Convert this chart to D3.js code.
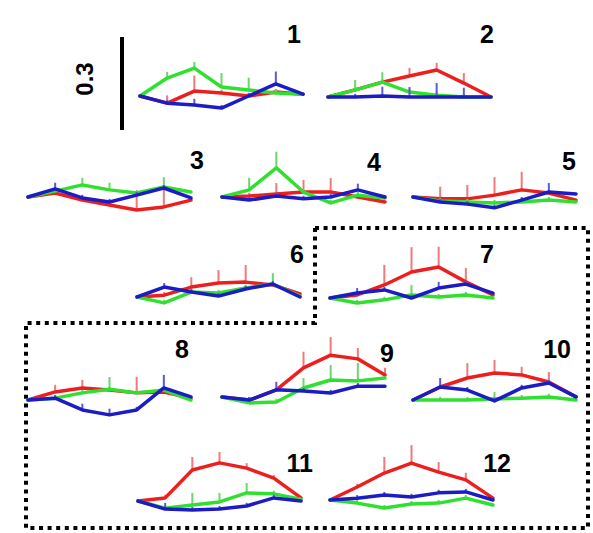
<!DOCTYPE html>
<html>
<head>
<meta charset="utf-8">
<script src="https://cdn.jsdelivr.net/npm/d3@7/dist/d3.min.js"></script>
<style>
  html, body { margin: 0; padding: 0; background: #fff; }
  svg { display: block; }
</style>
</head>
<body>
<script>
// Responses (ΔF) per time step for each of the 12 cells, three conditions each.
const panels = ["1","2","3","4","5","6","7","8","9","10","11","12"];
const steps = [0, 1, 2, 3, 4, 5, 6];

const redValues = [
  [0, -0.023, 0.016, 0.010, 0.000, 0.013, 0.006],
  [0, 0.023, 0.048, 0.068, 0.087, 0.045, 0.000],
  [0, 0.013, -0.010, -0.026, -0.042, -0.032, -0.010],
  [0, 0.003, 0.010, 0.016, 0.016, 0.000, -0.016],
  [0, -0.006, -0.006, 0.006, 0.023, 0.013, -0.010],
  [0, 0.006, 0.032, 0.045, 0.048, 0.039, 0.010],
  [0, 0.010, 0.042, 0.084, 0.100, 0.052, 0.010],
  [0, 0.026, 0.039, 0.032, 0.023, 0.026, 0.006],
  [0, -0.010, 0.023, 0.094, 0.135, 0.123, 0.071],
  [0, 0.042, 0.071, 0.087, 0.081, 0.058, 0.010],
  [0, 0.010, 0.100, 0.123, 0.106, 0.074, 0.010],
  [0, 0.042, 0.087, 0.119, 0.090, 0.065, 0.006]
];
const greenValues = [
  [0, 0.058, 0.090, 0.029, 0.019, 0.010, 0.006],
  [0, 0.023, 0.048, 0.016, 0.006, 0.000, 0.000],
  [0, 0.019, 0.039, 0.023, 0.013, 0.032, 0.016],
  [0, 0.023, 0.094, 0.016, -0.019, 0.006, -0.003],
  [0, -0.013, -0.016, -0.019, -0.016, -0.010, -0.016],
  [0, -0.019, 0.016, 0.013, 0.029, 0.042, 0.003],
  [0, -0.016, -0.006, 0.010, 0.003, 0.010, 0.000],
  [0, 0.006, 0.023, 0.035, 0.023, 0.032, 0.000],
  [0, -0.019, -0.016, 0.029, 0.055, 0.052, 0.061],
  [0, 0.000, 0.000, 0.003, 0.006, 0.010, 0.000],
  [0, -0.023, -0.013, -0.003, 0.026, 0.023, 0.006],
  [0, -0.010, -0.026, -0.013, -0.010, 0.006, -0.016]
];
const blueValues = [
  [0, -0.023, -0.029, -0.039, 0.000, 0.039, 0.006],
  [0, 0.000, 0.003, 0.000, 0.000, 0.000, 0.000],
  [0, 0.026, -0.003, -0.016, 0.006, 0.029, -0.003],
  [0, -0.010, 0.003, -0.006, 0.000, 0.023, 0.000],
  [0, -0.016, -0.023, -0.035, -0.010, 0.016, 0.010],
  [0, 0.032, 0.016, 0.003, 0.026, 0.042, 0.000],
  [0, 0.016, 0.026, 0.000, 0.032, 0.045, 0.016],
  [0, 0.006, -0.032, -0.048, -0.032, 0.039, 0.010],
  [0, -0.010, 0.023, 0.019, 0.013, 0.035, 0.035],
  [0, 0.042, 0.032, -0.003, 0.039, 0.055, 0.010],
  [0, -0.026, -0.029, -0.026, -0.016, 0.010, 0.000],
  [0, 0.006, 0.016, 0.010, 0.023, 0.026, 0.000]
];

// Upward error (SEM) at each step; 0 means no bar drawn.
const redErr = [
  [0, 0.025, 0.050, 0.010, 0.010, 0.010, 0],
  [0, 0.010, 0.010, 0.026, 0.023, 0.032, 0],
  [0, 0.010, 0.010, 0.010, 0.055, 0.060, 0],
  [0, 0.010, 0.035, 0.039, 0.045, 0.010, 0],
  [0, 0.039, 0.045, 0.058, 0.058, 0.010, 0],
  [0, 0.010, 0.032, 0.042, 0.055, 0.010, 0],
  [0, 0.010, 0.065, 0.080, 0.065, 0.045, 0],
  [0, 0.023, 0.026, 0.010, 0.052, 0.010, 0],
  [0, 0.010, 0.010, 0.052, 0.058, 0.035, 0.023],
  [0, 0.010, 0.048, 0.042, 0.026, 0.032, 0],
  [0, 0.010, 0.042, 0.035, 0.016, 0.010, 0],
  [0, 0.010, 0.052, 0.058, 0.032, 0.023, 0]
];
const greenErr = [
  [0, 0.020, 0.020, 0.045, 0.040, 0.010, 0],
  [0, 0.032, 0.032, 0.010, 0.010, 0.010, 0],
  [0, 0.010, 0.023, 0.023, 0.010, 0.032, 0],
  [0, 0.039, 0.052, 0.010, 0.010, 0.010, 0],
  [0, 0.010, 0.010, 0.010, 0.010, 0.010, 0],
  [0, 0.010, 0.010, 0.010, 0.010, 0.035, 0],
  [0, 0.010, 0.010, 0.032, 0.010, 0.010, 0],
  [0, 0.010, 0.010, 0.039, 0.010, 0.010, 0],
  [0, 0.010, 0.010, 0.032, 0.048, 0.058, 0],
  [0, 0.010, 0.010, 0.023, 0.010, 0.010, 0],
  [0, 0.010, 0.039, 0.029, 0.032, 0.010, 0],
  [0, 0.010, 0.010, 0.010, 0.010, 0.010, 0]
];
const blueErr = [
  [0, 0.010, 0.020, 0.010, 0.010, 0.040, 0],
  [0, 0.010, 0.030, 0.032, 0.045, 0.030, 0],
  [0, 0.020, 0.010, 0.010, 0.010, 0.010, 0],
  [0, 0.010, 0.010, 0.010, 0.010, 0.020, 0],
  [0, 0.010, 0.010, 0.010, 0.010, 0.029, 0],
  [0, 0.013, 0.010, 0.010, 0.010, 0.010, 0],
  [0, 0.016, 0.010, 0.010, 0.020, 0.010, 0],
  [0, 0.010, 0.020, 0.020, 0.010, 0.042, 0],
  [0, 0.010, 0.026, 0.010, 0.010, 0.010, 0],
  [0, 0.029, 0.010, 0.010, 0.010, 0.010, 0],
  [0, 0.020, 0.010, 0.010, 0.010, 0.010, 0],
  [0, 0.010, 0.010, 0.010, 0.010, 0.010, 0]
];

const scaleBarValue = 0.3;
const scaleBarLabel = "0.3";

// Panel placement: left edge, baseline, and where the number label sits.
const layout = [
  { x: 140, base: 96,  lx: 301, ly: 43 },
  { x: 328, base: 97,  lx: 494, ly: 43 },
  { x: 28,  base: 197, lx: 204, ly: 169 },
  { x: 222, base: 197, lx: 381, ly: 171 },
  { x: 413, base: 197, lx: 576, ly: 170 },
  { x: 137, base: 297, lx: 304, ly: 263 },
  { x: 330, base: 298, lx: 494, ly: 263 },
  { x: 28,  base: 400, lx: 189, ly: 358 },
  { x: 222, base: 397, lx: 394, ly: 362 },
  { x: 413, base: 400, lx: 571, ly: 358 },
  { x: 138, base: 501, lx: 313, ly: 472 },
  { x: 330, base: 500, lx: 511, ly: 472 }
];

const W = 593, H = 533;
const panelWidth = 163;
const pxPerUnit = 310;

const series = [
  { values: redValues,   err: redErr,   color: "#ec1f1f", errColor: "#ee7a7a" },
  { values: greenValues, err: greenErr, color: "#2fe02f", errColor: "#6cd66c" },
  { values: blueValues,  err: blueErr,  color: "#1c1cc4", errColor: "#5a5ad8" }
];

const svg = d3.select("body").append("svg")
  .attr("width", W).attr("height", H)
  .attr("font-family", "Liberation Sans, Arial, sans-serif");

// Dotted outline around cells 7–12
const outline = d3.path();
outline.moveTo(315, 228);
outline.lineTo(588, 228);
outline.lineTo(588, 528);
outline.lineTo(26, 528);
outline.lineTo(26, 323);
outline.lineTo(315, 323);
outline.closePath();
svg.append("path")
  .attr("d", outline.toString())
  .attr("fill", "none")
  .attr("stroke", "#000")
  .attr("stroke-width", 4)
  .attr("stroke-dasharray", "4 4.6");

panels.forEach((name, i) => {
  const L = layout[i];
  const x = d3.scaleLinear().domain(d3.extent(steps)).range([L.x, L.x + panelWidth]);
  const y = d3.scaleLinear().domain([0, 1]).range([L.base, L.base - pxPerUnit]);
  const g = svg.append("g").attr("class", "cell");

  const line = d3.line().x((d, j) => x(steps[j])).y(d => y(d));

  series.forEach(s => {
    const vals = s.values[i];
    const errs = s.err[i];
    g.append("g").selectAll("line")
      .data(steps.filter(j => errs[j] > 0))
      .join("line")
      .attr("x1", j => x(j)).attr("x2", j => x(j))
      .attr("y1", j => y(vals[j])).attr("y2", j => y(vals[j] + errs[j]))
      .attr("stroke", s.errColor)
      .attr("stroke-width", 2);
    g.append("path")
      .datum(vals)
      .attr("d", line)
      .attr("fill", "none")
      .attr("stroke", s.color)
      .attr("stroke-width", 3.5)
      .attr("stroke-linejoin", "round")
      .attr("stroke-linecap", "round");
  });

  g.append("text")
    .attr("x", L.lx).attr("y", L.ly)
    .attr("text-anchor", "end")
    .attr("font-size", 25)
    .attr("font-weight", "bold")
    .attr("fill", "#000")
    .text(name);
});

// Vertical scale bar
const barY = d3.scaleLinear().domain([0, scaleBarValue]).range([130, 130 - 93]);
svg.append("line")
  .attr("x1", 122).attr("x2", 122)
  .attr("y1", barY(0)).attr("y2", barY(scaleBarValue))
  .attr("stroke", "#000").attr("stroke-width", 4);
svg.append("text")
  .attr("transform", "translate(93,79) rotate(-90)")
  .attr("text-anchor", "middle")
  .attr("font-size", 24)
  .attr("font-weight", "bold")
  .text(scaleBarLabel);
</script>
</body>
</html>
